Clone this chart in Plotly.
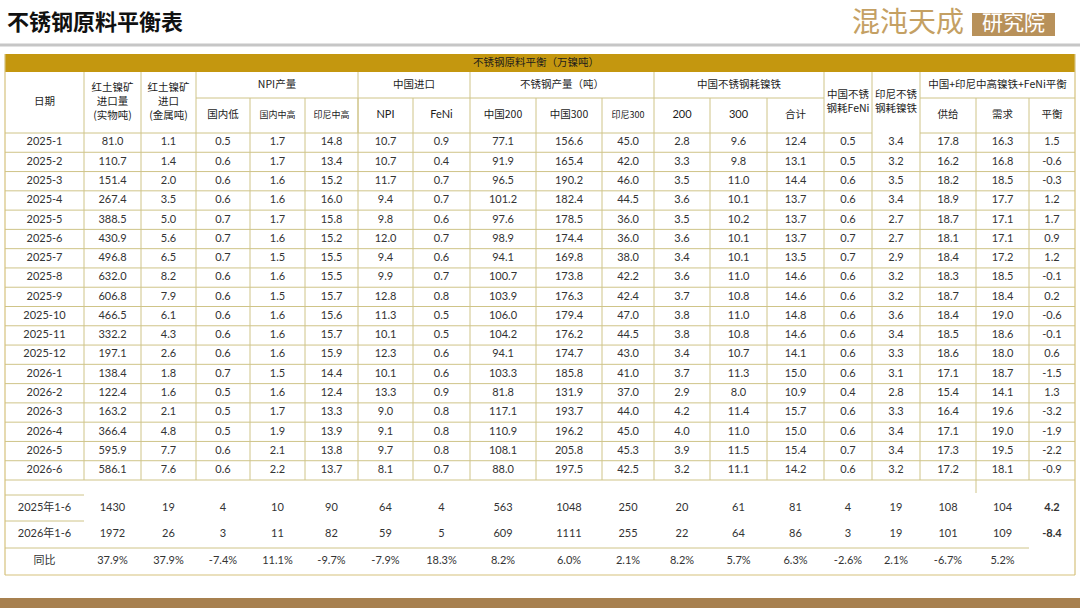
import plotly.graph_objects as go

# ---------------- data ----------------
page_title = "不锈钢原料平衡表"
table_title = "不锈钢原料平衡（万镍吨）"
logo_main = "混沌天成"
logo_box = "研究院"

dates = ["2025-1", "2025-2", "2025-3", "2025-4", "2025-5", "2025-6", "2025-7", "2025-8", "2025-9",
         "2025-10", "2025-11", "2025-12", "2026-1", "2026-2", "2026-3", "2026-4", "2026-5", "2026-6"]
ore_physical = [81.0, 110.7, 151.4, 267.4, 388.5, 430.9, 496.8, 632.0, 606.8, 466.5, 332.2, 197.1, 138.4, 122.4, 163.2, 366.4, 595.9, 586.1]
ore_metal = [1.1, 1.4, 2.0, 3.5, 5.0, 5.6, 6.5, 8.2, 7.9, 6.1, 4.3, 2.6, 1.8, 1.6, 2.1, 4.8, 7.7, 7.6]
npi_dom_low = [0.5, 0.6, 0.6, 0.6, 0.7, 0.7, 0.7, 0.6, 0.6, 0.6, 0.6, 0.6, 0.7, 0.5, 0.5, 0.5, 0.6, 0.6]
npi_dom_mh = [1.7, 1.7, 1.6, 1.6, 1.7, 1.6, 1.5, 1.6, 1.5, 1.6, 1.6, 1.6, 1.5, 1.6, 1.7, 1.9, 2.1, 2.2]
npi_indo_mh = [14.8, 13.4, 15.2, 16.0, 15.8, 15.2, 15.5, 15.5, 15.7, 15.6, 15.7, 15.9, 14.4, 12.4, 13.3, 13.9, 13.8, 13.7]
imp_npi = [10.7, 10.7, 11.7, 9.4, 9.8, 12.0, 9.4, 9.9, 12.8, 11.3, 10.1, 12.3, 10.1, 13.3, 9.0, 9.1, 9.7, 8.1]
imp_feni = [0.9, 0.4, 0.7, 0.7, 0.6, 0.7, 0.6, 0.7, 0.8, 0.5, 0.5, 0.6, 0.6, 0.9, 0.8, 0.8, 0.8, 0.7]
ss_cn200 = [77.1, 91.9, 96.5, 101.2, 97.6, 98.9, 94.1, 100.7, 103.9, 106.0, 104.2, 94.1, 103.3, 81.8, 117.1, 110.9, 108.1, 88.0]
ss_cn300 = [156.6, 165.4, 190.2, 182.4, 178.5, 174.4, 169.8, 173.8, 176.3, 179.4, 176.2, 174.7, 185.8, 131.9, 193.7, 196.2, 205.8, 197.5]
ss_id300 = [45.0, 42.0, 46.0, 44.5, 36.0, 36.0, 38.0, 42.2, 42.4, 47.0, 44.5, 43.0, 41.0, 37.0, 44.0, 45.0, 45.3, 42.5]
cons_200 = [2.8, 3.3, 3.5, 3.6, 3.5, 3.6, 3.4, 3.6, 3.7, 3.8, 3.8, 3.4, 3.7, 2.9, 4.2, 4.0, 3.9, 3.2]
cons_300 = [9.6, 9.8, 11.0, 10.1, 10.2, 10.1, 10.1, 11.0, 10.8, 11.0, 10.8, 10.7, 11.3, 8.0, 11.4, 11.0, 11.5, 11.1]
cons_total = [12.4, 13.1, 14.4, 13.7, 13.7, 13.7, 13.5, 14.6, 14.6, 14.8, 14.6, 14.1, 15.0, 10.9, 15.7, 15.0, 15.4, 14.2]
cn_feni = [0.5, 0.5, 0.6, 0.6, 0.6, 0.7, 0.7, 0.6, 0.6, 0.6, 0.6, 0.6, 0.6, 0.4, 0.6, 0.6, 0.7, 0.6]
id_npi = [3.4, 3.2, 3.5, 3.4, 2.7, 2.7, 2.9, 3.2, 3.2, 3.6, 3.4, 3.3, 3.1, 2.8, 3.3, 3.4, 3.4, 3.2]
supply = [17.8, 16.2, 18.2, 18.9, 18.7, 18.1, 18.4, 18.3, 18.7, 18.4, 18.5, 18.6, 17.1, 15.4, 16.4, 17.1, 17.3, 17.2]
demand = [16.3, 16.8, 18.5, 17.7, 17.1, 17.1, 17.2, 18.5, 18.4, 19.0, 18.6, 18.0, 18.7, 14.1, 19.6, 19.0, 19.5, 18.1]
balance = [1.5, -0.6, -0.3, 1.2, 1.7, 0.9, 1.2, -0.1, 0.2, -0.6, -0.1, 0.6, -1.5, 1.3, -3.2, -1.9, -2.2, -0.9]

sum_labels = ["2025年1-6", "2026年1-6", "同比"]
h1_2025 = [1430, 19, 4, 10, 90, 64, 4, 563, 1048, 250, 20, 61, 81, 4, 19, 108, 104, 4.2]
h1_2026 = [1972, 26, 3, 11, 82, 59, 5, 609, 1111, 255, 22, 64, 86, 3, 19, 101, 109, -8.4]
yoy = ["37.9%", "37.9%", "-7.4%", "11.1%", "-9.7%", "-7.9%", "18.3%", "8.2%", "6.0%", "2.1%",
       "8.2%", "5.7%", "6.3%", "-2.6%", "2.1%", "-6.7%", "5.2%", ""]

# header labels
hdr_single = ["日期", "红土镍矿<br>进口量<br>(实物吨)", "红土镍矿<br>进口<br>(金属吨)"]
hdr_groups = ["NPI产量", "中国进口", "不锈钢产量（吨）", "中国不锈钢耗镍铁", "中国+印尼中高镍铁+FeNi平衡"]
hdr_sub = ["国内低", "国内中高", "印尼中高", "NPI", "FeNi", "中国200", "中国300", "印尼300",
           "200", "300", "合计"]
hdr_single2 = ["中国不锈<br>钢耗FeNi", "印尼不锈<br>钢耗镍铁"]
hdr_sub2 = ["供给", "需求", "平衡"]

monthly_cols = [ore_physical, ore_metal, npi_dom_low, npi_dom_mh, npi_indo_mh, imp_npi, imp_feni,
                ss_cn200, ss_cn300, ss_id300, cons_200, cons_300, cons_total, cn_feni, id_npi,
                supply, demand, balance]

# ---------------- geometry / style ----------------
W, H = 1080, 608
xb = [5, 84, 141, 196, 250, 305, 358, 413, 470, 536, 602, 654, 710, 767, 824, 872, 920, 976, 1029, 1075]
xc = [(xb[i] + xb[i + 1]) / 2 for i in range(len(xb) - 1)]
Y_TOP, Y_BAR = 54, 72
Y_H1, Y_H2 = 98, 133
Y_END = 480
ROW_H = (Y_END - Y_H2) / len(dates)
Y_SUM = [495, 521, 548, 575]

GOLD = "#C4970F"
GRID = "#CFC488"
BORDER = "#D6C27C"
TXT = "#333333"
HTXT = "#1c1c1c"
NUM_FONT = "Lato, 'Noto Sans CJK SC', sans-serif"
CJK_FONT = "'Noto Sans CJK SC', sans-serif"

shapes = []


def hline(y, x0, x1, color=GRID, w=1):
    shapes.append(dict(type="line", xref="x", yref="y", x0=x0, x1=x1, y0=y, y1=y,
                       line=dict(color=color, width=w)))


def vline(x, y0, y1, color=GRID, w=1):
    shapes.append(dict(type="line", xref="x", yref="y", x0=x, x1=x, y0=y0, y1=y1,
                       line=dict(color=color, width=w)))


def rect(x0, x1, y0, y1, fill):
    shapes.append(dict(type="rect", xref="x", yref="y", x0=x0, x1=x1, y0=y0, y1=y1,
                       fillcolor=fill, line=dict(width=0), layer="below"))


# page decorations
rect(0, W, 43.5, 46.5, "#C6C6C6")
rect(0, W, 598, H, "#A7804F")
rect(972, 1055, 13, 36, "#B8915A")
# gold title bar
rect(xb[0], xb[-1], Y_TOP, Y_BAR, GOLD)

# header lines
group_bounds = [84, 141, 196, 358, 470, 654, 824, 872, 920]
for x in group_bounds:
    vline(x, Y_BAR, Y_H2)
for x in xb[4:8] + xb[9:11] + xb[12:14] + xb[17:19]:
    vline(x, Y_H1, Y_H2)
hline(Y_H1, xb[3], xb[14])
hline(Y_H1, xb[16], xb[19])
hline(Y_H2, xb[0], xb[15])
hline(Y_H2, xb[16], xb[19])

# data grid
for i in range(1, len(dates) + 1):
    hline(Y_H2 + i * ROW_H, xb[0], xb[-1])
for x in xb[1:-1]:
    vline(x, Y_H2, Y_END)
vline(xb[17], Y_END, 493)

# summary lines
hline(Y_SUM[0], xb[0], xb[1])
hline(Y_SUM[1], xb[0], xb[1])
hline(Y_SUM[2], xb[0], xb[18])

# outer border
vline(xb[0], Y_TOP, Y_SUM[3], BORDER, 1.2)
vline(xb[-1], Y_TOP, Y_SUM[3], BORDER, 1.2)
hline(Y_SUM[3], xb[0], xb[-1], BORDER, 1.2)

fig = go.Figure()


def text_trace(xs, ys, texts, size, family, color, pos="middle center"):
    fig.add_trace(go.Scatter(x=xs, y=ys, text=texts, mode="text", textposition=pos,
                             textfont=dict(size=size, family=family, color=color),
                             hoverinfo="skip", showlegend=False, cliponaxis=False))


# page title & logo
text_trace([7], [24], ["<b>" + page_title + "</b>"], 22, CJK_FONT, "#111111", "middle right")
text_trace([908], [25], [logo_main], 28, CJK_FONT, "#C4A063")
text_trace([1013.5], [24.5], [logo_box], 21, CJK_FONT, "#FFFFFF")

# table title
text_trace([536], [(Y_TOP + Y_BAR) / 2 + 0.5], [table_title], 10.5, CJK_FONT, HTXT)

# headers
ymid = (Y_BAR + Y_H2) / 2
y1 = (Y_BAR + Y_H1) / 2
y2 = (Y_H1 + Y_H2) / 2
text_trace(xc[0:3], [ymid] * 3, hdr_single, 10.5, CJK_FONT, HTXT)
text_trace(xc[14:16], [ymid] * 2, hdr_single2, 10.5, CJK_FONT, HTXT)
gx = [(xb[3] + xb[6]) / 2, (xb[6] + xb[8]) / 2, (xb[8] + xb[11]) / 2, (xb[11] + xb[14]) / 2,
      (xb[16] + xb[19]) / 2]
text_trace(gx, [y1] * 5, hdr_groups, 10.5, CJK_FONT, HTXT)
sub_sizes = [10.5, 9, 9, 11, 11, 10.5, 10.5, 9, 11, 11, 10.5]
for j, (lab, sz) in enumerate(zip(hdr_sub, sub_sizes)):
    fam = NUM_FONT if lab in ("NPI", "FeNi", "200", "300") else CJK_FONT
    text_trace([xc[3 + j]], [y2], [lab], sz, fam, HTXT)
text_trace(xc[16:19], [y2] * 3, hdr_sub2, 10.5, CJK_FONT, HTXT)

# monthly data
xs, ys, ts = [], [], []
for i, d in enumerate(dates):
    yc = Y_H2 + (i + 0.5) * ROW_H
    xs.append(xc[0]); ys.append(yc); ts.append(d)
    for j, col in enumerate(monthly_cols):
        xs.append(xc[j + 1]); ys.append(yc); ts.append(f"{col[i]:.1f}")
text_trace(xs, ys, ts, 11, NUM_FONT, TXT)

# summary rows
xs, ys, ts = [], [], []
for r, (lab, vals) in enumerate(zip(sum_labels, [h1_2025, h1_2026, yoy])):
    yc = (Y_SUM[r] + Y_SUM[r + 1]) / 2
    xs.append(xc[0]); ys.append(yc); ts.append(lab)
    for j, v in enumerate(vals):
        if isinstance(v, str):
            t = v
        elif j == len(vals) - 1:
            t = f"<b>{v:.1f}</b>"
        else:
            t = f"{v:d}"
        xs.append(xc[j + 1]); ys.append(yc); ts.append(t)
text_trace(xs, ys, ts, 11, NUM_FONT, TXT)

fig.update_layout(
    width=W, height=H,
    margin=dict(l=0, r=0, t=0, b=0),
    paper_bgcolor="white", plot_bgcolor="white",
    xaxis=dict(range=[0, W], visible=False, fixedrange=True),
    yaxis=dict(range=[H, 0], visible=False, fixedrange=True),
    shapes=shapes,
    showlegend=False,
    hovermode=False,
)

fig.write_html(
    "out.html",
    config={"displayModeBar": False},
    post_script="document.body.style.margin='0';document.body.style.padding='0';"
                "document.body.style.overflow='hidden';",
)
